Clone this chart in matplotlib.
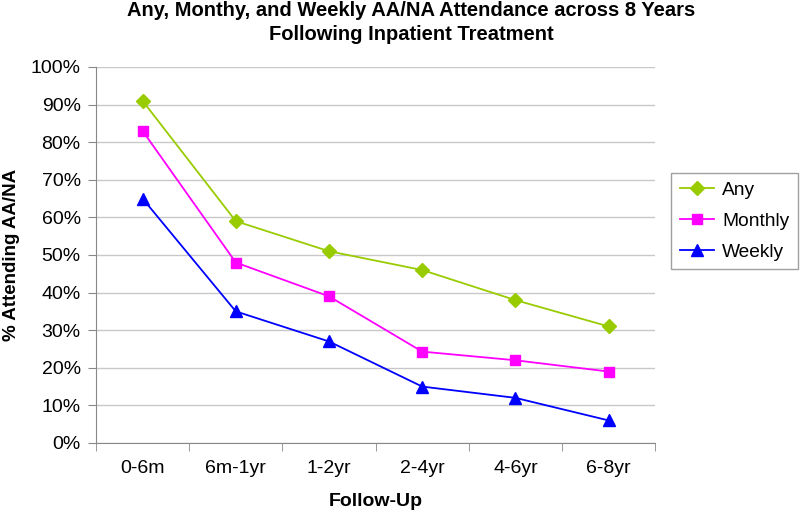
import matplotlib
matplotlib.use("Agg")
import matplotlib.pyplot as plt
from matplotlib.ticker import FixedLocator, PercentFormatter

categories = ["0-6m", "6m-1yr", "1-2yr", "2-4yr", "4-6yr", "6-8yr"]
any_att = [91, 59, 51, 46, 38, 31]
monthly_att = [83, 48, 39, 24.3, 22, 19]
weekly_att = [65, 35, 27, 15, 12, 6]
yticks = list(range(0, 101, 10))

plt.rcParams['font.family'] = ['Liberation Sans', 'DejaVu Sans']

fig = plt.figure(figsize=(8, 5.13), dpi=100)
ax = fig.add_axes([0.12, 0.1365, 0.699, 0.7329])

x = list(range(len(categories)))
ax.plot(x, any_att, color="#99CC00", marker="D", markersize=7, lw=1.3, label="Any")
ax.plot(x, monthly_att, color="#FF00FF", marker="s", markersize=7.5, lw=1.3, label="Monthly")
ax.plot(x, weekly_att, color="#0000FF", marker="^", markersize=8.5, lw=1.3, label="Weekly")

ax.set_xlim(-0.5, len(categories) - 0.5)
ax.set_ylim(0, 100)
ax.set_yticks(yticks)
ax.yaxis.set_major_formatter(PercentFormatter(decimals=0))
ax.set_xticks(x)
ax.set_xticklabels(categories)
ax.xaxis.set_minor_locator(FixedLocator([i - 0.5 for i in range(len(categories) + 1)]))
ax.tick_params(axis="x", which="major", length=0, pad=12, labelsize=14)
ax.tick_params(axis="x", which="minor", length=6, color="#888888", direction="out")
ax.tick_params(axis="y", length=6, color="#888888", direction="out", labelsize=14, pad=5)

ax.grid(axis="y", color="#C8C8C8", lw=1)
ax.set_axisbelow(True)
for s in ["top", "right"]:
    ax.spines[s].set_visible(False)
for s in ["left", "bottom"]:
    ax.spines[s].set_color("#888888")

ax.set_xlabel("Follow-Up", fontsize=14, fontweight="bold", labelpad=12)
ax.set_ylabel("% Attending AA/NA", fontsize=13.5, fontweight="bold", labelpad=8)
fig.suptitle("Any, Monthy, and Weekly AA/NA Attendance across 8 Years\nFollowing Inpatient Treatment",
             fontsize=14.5, fontweight="bold", y=0.998, x=0.514, linespacing=1.3)

leg = fig.legend(loc="upper left", bbox_to_anchor=(0.839, 0.663), fontsize=13.8, frameon=True,
                 fancybox=False, edgecolor="#888888", handlelength=1.8, borderpad=0.45,
                 labelspacing=0.7, handletextpad=0.4, borderaxespad=0)
leg.get_frame().set_linewidth(1)

fig.savefig("out.png", dpi=100)
